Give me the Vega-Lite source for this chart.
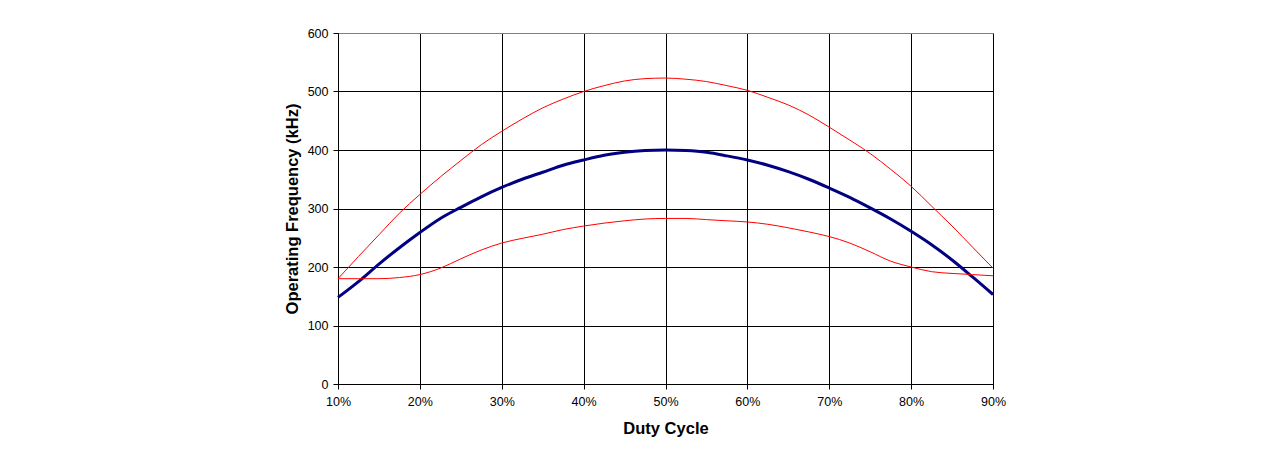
{
  "$schema": "https://vega.github.io/schema/vega-lite/v6.json",
  "width": 655,
  "height": 351,
  "autosize": {"type": "none"},
  "padding": {"left": 338, "top": 33, "right": 292, "bottom": 71},
  "background": "white",
  "config": {
    "view": {"stroke": "#808080", "strokeWidth": 1},
    "font": "Liberation Sans",
    "axis": {
      "labelFont": "Liberation Sans",
      "labelFontSize": 12.5,
      "labelColor": "#000000",
      "titleFont": "Liberation Sans",
      "titleFontSize": 16.5,
      "titleFontWeight": "bold",
      "titleColor": "#000000",
      "domainColor": "#000000",
      "tickColor": "#000000",
      "tickSize": 5,
      "gridColor": "#000000",
      "gridWidth": 1,
      "gridOpacity": 1
    }
  },
  "datasets": {
    "curves": [
      {"duty": 10, "typ": 148, "max": 180, "min": 180},
      {"duty": 12.5, "typ": 175, "max": 218, "min": 180},
      {"duty": 15, "typ": 205, "max": 255, "min": 180},
      {"duty": 17.5, "typ": 233, "max": 292, "min": 182},
      {"duty": 20, "typ": 259, "max": 324, "min": 187},
      {"duty": 22.5, "typ": 283, "max": 354, "min": 198},
      {"duty": 25, "typ": 302, "max": 382, "min": 214},
      {"duty": 27.5, "typ": 320, "max": 409, "min": 229},
      {"duty": 30, "typ": 336, "max": 432, "min": 241},
      {"duty": 32.5, "typ": 350, "max": 453, "min": 249},
      {"duty": 35, "typ": 362, "max": 472, "min": 256},
      {"duty": 37.5, "typ": 374, "max": 487, "min": 264},
      {"duty": 40, "typ": 383, "max": 500, "min": 270},
      {"duty": 42.5, "typ": 391, "max": 510, "min": 275},
      {"duty": 45, "typ": 396, "max": 518, "min": 279},
      {"duty": 47.5, "typ": 399, "max": 522, "min": 282},
      {"duty": 50, "typ": 400, "max": 523, "min": 283},
      {"duty": 52.5, "typ": 399, "max": 521, "min": 283},
      {"duty": 55, "typ": 396, "max": 517, "min": 281},
      {"duty": 57.5, "typ": 390, "max": 510, "min": 279},
      {"duty": 60, "typ": 383, "max": 502, "min": 277},
      {"duty": 62.5, "typ": 374, "max": 490, "min": 273},
      {"duty": 65, "typ": 363, "max": 477, "min": 267},
      {"duty": 67.5, "typ": 350, "max": 460, "min": 260},
      {"duty": 70, "typ": 335, "max": 439, "min": 252},
      {"duty": 72.5, "typ": 319, "max": 417, "min": 241},
      {"duty": 75, "typ": 301, "max": 394, "min": 226},
      {"duty": 77.5, "typ": 282, "max": 367, "min": 210},
      {"duty": 80, "typ": 261, "max": 338, "min": 200},
      {"duty": 82.5, "typ": 238, "max": 304, "min": 192},
      {"duty": 85, "typ": 212, "max": 270, "min": 189},
      {"duty": 87.5, "typ": 183, "max": 234, "min": 187},
      {"duty": 90, "typ": 153, "max": 198, "min": 185}
    ]
  },
  "data": {"name": "curves"},
  "encoding": {
    "x": {
      "field": "duty",
      "type": "quantitative",
      "scale": {"domain": [10, 90], "nice": false, "zero": false},
      "axis": {
        "title": "Duty Cycle",
        "values": [10, 20, 30, 40, 50, 60, 70, 80, 90],
        "labelExpr": "datum.value + '%'",
        "labelPadding": 6,
        "titlePadding": 13,
        "labelFlush": false
      }
    }
  },
  "layer": [
    {
      "mark": {"type": "line", "color": "#000080", "strokeWidth": 3, "interpolate": "monotone"},
      "encoding": {
        "y": {
          "field": "typ",
          "type": "quantitative",
          "scale": {"domain": [0, 600], "nice": false},
          "axis": {
            "title": "Operating Frequency (kHz)",
            "values": [0, 100, 200, 300, 400, 500, 600],
            "labelPadding": 5,
            "titlePadding": 7,
            "gridColor": {"condition": {"test": "datum.value === 600", "value": "#808080"}, "value": "#000000"}
          }
        }
      }
    },
    {
      "mark": {"type": "line", "color": "#FF0000", "strokeWidth": 1, "interpolate": "monotone"},
      "encoding": {"y": {"field": "max", "type": "quantitative"}}
    },
    {
      "mark": {"type": "line", "color": "#FF0000", "strokeWidth": 1, "interpolate": "monotone"},
      "encoding": {"y": {"field": "min", "type": "quantitative"}}
    }
  ]
}
